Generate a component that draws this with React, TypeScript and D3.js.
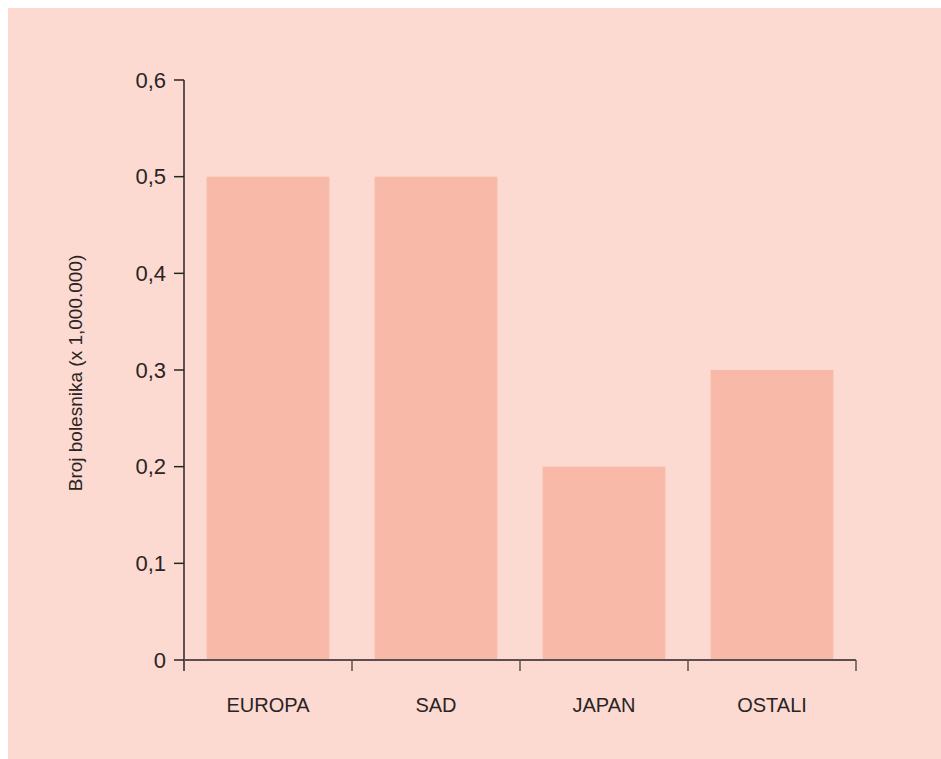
import React from "react";
import * as d3 from "d3";

const categories = ["EUROPA", "SAD", "JAPAN", "OSTALI"];
const values = [0.5, 0.5, 0.2, 0.3];
const yTicks = [0, 0.1, 0.2, 0.3, 0.4, 0.5, 0.6];
const yTitle = "Broj bolesnika (x 1,000.000)";

const W = 1000;
const H = 820;
const ORIGIN_X = 8; // svg offset inside page (body margin)

export default function App() {
  const x0 = 184 - ORIGIN_X;
  const x1 = 856 - ORIGIN_X;
  const yBottom = 660 - ORIGIN_X;
  const yTop = 80 - ORIGIN_X;

  const x = d3
    .scaleBand<string>()
    .domain(categories)
    .range([x0, x1])
    .paddingInner(0.27)
    .paddingOuter(0.135);
  const y = d3.scaleLinear().domain([0, 0.6]).range([yBottom, yTop]);

  const step = x.step();
  const boundaries = d3.range(categories.length + 1).map((i) => x0 + i * step);
  const fmt = (v: number) => (v === 0 ? "0" : d3.format(".1f")(v).replace(".", ","));

  const axisColor = "#5b5050";
  const textColor = "#2a2424";

  return (
    <div style={{ position: "fixed", left: 8, top: 8, right: 0, bottom: 0, background: "#fcdad1", overflow: "hidden" }}>
      <svg width={W} height={H} style={{ display: "block" }}>
        <rect x={0} y={0} width={W} height={H} fill="#fcdad1" />
        {categories.map((c, i) => (
          <rect
            key={c}
            x={x(c)}
            y={y(values[i])}
            width={x.bandwidth()}
            height={yBottom - y(values[i])}
            fill="#f9b9a9"
          />
        ))}
        {/* y axis */}
        <line x1={x0} x2={x0} y1={yTop} y2={yBottom + 11} stroke={textColor} strokeWidth={1.5} />
        {yTicks.map((t) => (
          <g key={t}>
            <line x1={x0 - 10} x2={x0} y1={y(t)} y2={y(t)} stroke={textColor} strokeWidth={1.5} />
            <text
              x={x0 - 18}
              y={y(t)}
              dy="0.35em"
              textAnchor="end"
              fontFamily="'Liberation Sans', Arial, sans-serif"
              fontSize={22}
              fill={textColor}
            >
              {fmt(t)}
            </text>
          </g>
        ))}
        {/* x axis */}
        <line x1={x0} x2={x1} y1={yBottom} y2={yBottom} stroke={axisColor} strokeWidth={2} />
        {boundaries.slice(1).map((b, i) => (
          <line key={i} x1={b} x2={b} y1={yBottom} y2={yBottom + 11} stroke={axisColor} strokeWidth={1.5} />
        ))}
        {categories.map((c) => (
          <text
            key={c}
            x={(x(c) as number) + x.bandwidth() / 2}
            y={712 - ORIGIN_X}
            textAnchor="middle"
            fontFamily="'Liberation Sans', Arial, sans-serif"
            fontSize={20}
            fill={textColor}
          >
            {c}
          </text>
        ))}
        <text
          transform={`translate(${82 - ORIGIN_X},${373 - ORIGIN_X}) rotate(-90)`}
          textAnchor="middle"
          fontFamily="'Liberation Sans', Arial, sans-serif"
          fontSize={19}
          fill={textColor}
        >
          {yTitle}
        </text>
      </svg>
    </div>
  );
}
